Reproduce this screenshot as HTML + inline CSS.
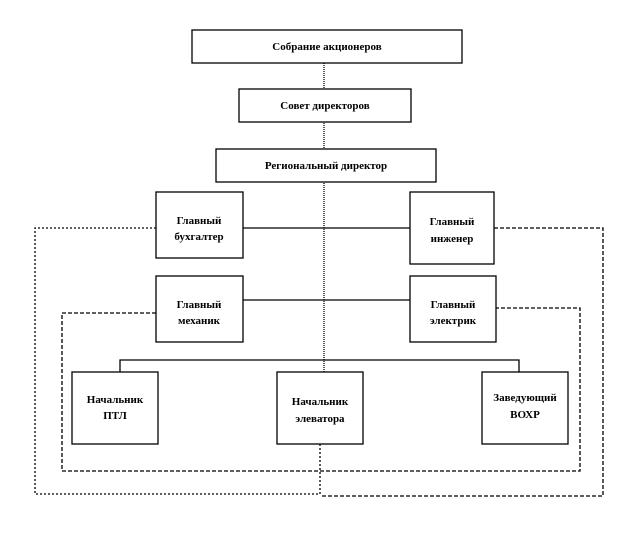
<!DOCTYPE html>
<html><head><meta charset="utf-8"><style>
body{margin:0;background:#fff;width:624px;height:540px;overflow:hidden}
svg{display:block}
text{font-family:"Liberation Serif","DejaVu Serif",serif;font-weight:bold;font-size:11px;fill:#000;text-anchor:middle}
</style></head><body>
<svg width="624" height="540" viewBox="0 0 624 540">
<g fill="#fff" stroke="#000" stroke-width="1.3">
<line x1="324" y1="63" x2="324" y2="372" stroke-dasharray="1,1"/>
<line x1="243" y1="228" x2="410" y2="228"/>
<line x1="243" y1="300" x2="410" y2="300"/>
<polyline points="120,372 120,360 519,360 519,372" fill="none"/>
<polyline points="156,228 35,228 35,494 320,494 320,444" fill="none" stroke-dasharray="2,2"/>
<polyline points="494,228 603,228 603,496 320,496" fill="none" stroke-dasharray="4,2"/>
<polyline points="156,313 62,313 62,471 580,471 580,308 496,308" fill="none" stroke-dasharray="4,2"/>
<rect x="192" y="30" width="270" height="33"/>
<rect x="239" y="89" width="172" height="33"/>
<rect x="216" y="149" width="220" height="33"/>
<rect x="156" y="192" width="87" height="66"/>
<rect x="410" y="192" width="84" height="72"/>
<rect x="156" y="276" width="87" height="66"/>
<rect x="410" y="276" width="86" height="66"/>
<rect x="72" y="372" width="86" height="72"/>
<rect x="277" y="372" width="86" height="72"/>
<rect x="482" y="372" width="86" height="72"/>
</g>
<text x="327" y="50">Собрание акционеров</text>
<text x="325" y="109">Совет директоров</text>
<text x="326" y="169">Региональный директор</text>
<text x="199" y="224">Главный</text><text x="199" y="240">бухгалтер</text>
<text x="452" y="225">Главный</text><text x="452" y="242">инженер</text>
<text x="199" y="308">Главный</text><text x="199" y="324">механик</text>
<text x="453" y="308">Главный</text><text x="453" y="324">электрик</text>
<text x="115" y="403">Начальник</text><text x="115" y="419">ПТЛ</text>
<text x="320" y="405">Начальник</text><text x="320" y="422">элеватора</text>
<text x="525" y="401">Заведующий</text><text x="525" y="418">ВОХР</text>
</svg>
</body></html>
